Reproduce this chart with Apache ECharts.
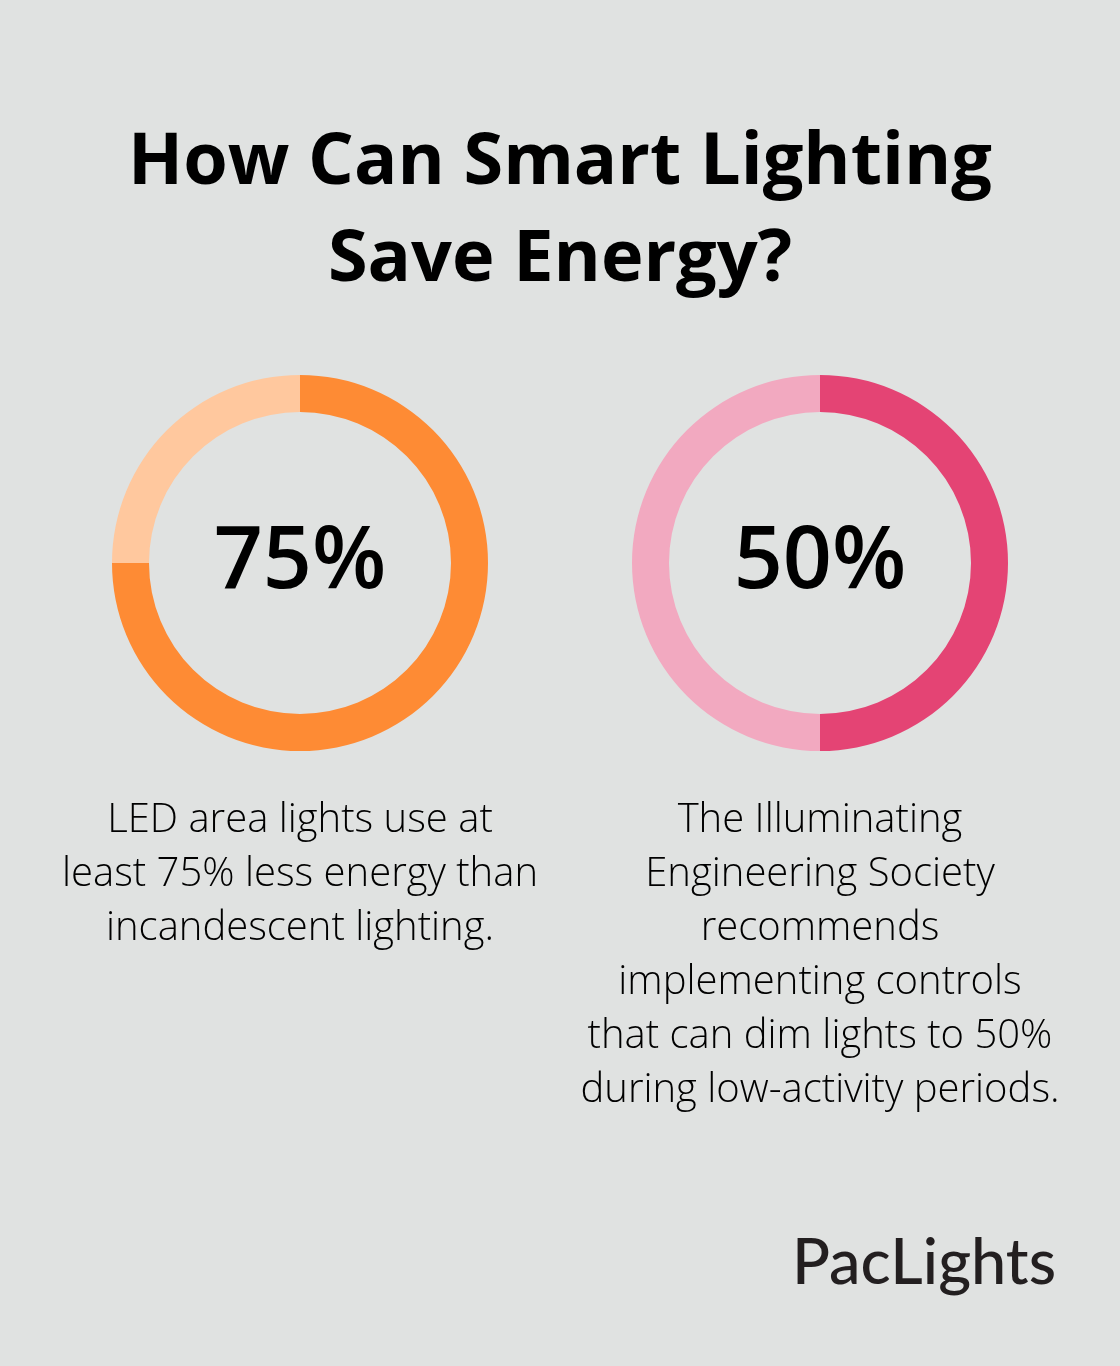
<!DOCTYPE html>
<html><head><meta charset="utf-8">
<style>html,body{margin:0;padding:0;background:#E0E2E1;}#c{width:1120px;height:1366px;}</style>
<script src="https://cdn.jsdelivr.net/npm/echarts@6/dist/echarts.min.js"></script>
</head><body><div id="c"></div>
<script>
const titleText = "How Can Smart Lighting\nSave Energy?";
const percents = [75, 50];
const labels = ["75%", "50%"];
const descriptions = [
  "LED area lights use at\nleast 75% less energy than\nincandescent lighting.",
  "The Illuminating\nEngineering Society\nrecommends\nimplementing controls\nthat can dim lights to 50%\nduring low-activity periods."
];
const mainColors = ["#FE8B34", "#E44474"];
const lightColors = ["#FFC89E", "#F2A9C0"];
const centersX = [300, 820];
const brand = "PacLights";

const chart = echarts.init(document.getElementById('c'), null, {renderer: 'canvas'});
const series = percents.map((p, i) => ({
  type: 'pie',
  center: [centersX[i], 563],
  radius: [151, 188],
  startAngle: 90,
  clockwise: true,
  silent: true,
  label: {show: false},
  labelLine: {show: false},
  emphasis: {disabled: true},
  data: [
    {value: p, itemStyle: {color: mainColors[i]}},
    {value: 100 - p, itemStyle: {color: lightColors[i]}}
  ]
}));
const graphics = [
  {type: 'text', x: 560, y: 115, style: {text: titleText, font: 'bold 72px "Open Sans"', fill: '#000', textAlign: 'center', textVerticalAlign: 'top', lineHeight: 97}}
];
percents.forEach((p, i) => {
  graphics.push({type: 'text', x: centersX[i], y: 563, style: {text: labels[i], font: '550 86px "Open Sans"', fill: '#000', textAlign: 'center', textVerticalAlign: 'middle'}});
  graphics.push({type: 'text', x: centersX[i], y: 794, style: {text: descriptions[i], font: '300 40px "Open Sans"', fill: '#000', textAlign: 'center', textVerticalAlign: 'top', lineHeight: 54}});
});
graphics.push({type: 'text', x: 1056, y: 1264, style: {text: brand, font: '500 63px "Lato"', fill: '#231F20', textAlign: 'right', textVerticalAlign: 'middle'}});
chart.setOption({
  backgroundColor: '#E0E2E1',
  animation: false,
  series: series,
  graphic: graphics
});
</script></body></html>
